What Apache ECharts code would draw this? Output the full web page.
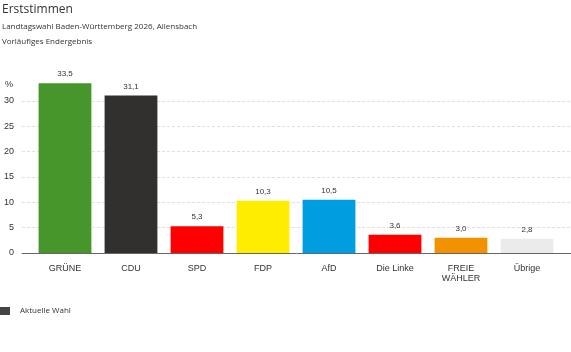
<!DOCTYPE html>
<html><head><meta charset="utf-8">
<script src="https://cdn.jsdelivr.net/npm/echarts@6/dist/echarts.min.js"></script>
<style>html,body{margin:0;padding:0;background:#fff}#c{width:571px;height:352px}</style>
</head><body><div id="c"></div>
<script>
const categories = ['GRÜNE', 'CDU', 'SPD', 'FDP', 'AfD', 'Die Linke', 'FREIE\nWÄHLER', 'Übrige'];
const values = [33.5, 31.1, 5.3, 10.3, 10.5, 3.6, 3.0, 2.8];
const colors = ['#46962b', '#32302e', '#ff0000', '#ffed00', '#009ee0', '#ff0000', '#f39200', '#ebebeb'];
const yTicks = [0, 5, 10, 15, 20, 25, 30];

const chart = echarts.init(document.getElementById('c'), null, {renderer: 'canvas'});
const ui = '"Open Sans", "Noto Sans", sans-serif';
const ar = '"Liberation Sans", Arial, sans-serif';
chart.setOption({
  animation: false,
  title: [
    {text: 'Erststimmen', left: 2, top: 4, padding: 0, textStyle: {fontFamily: ui, fontSize: 12, fontWeight: 'normal', color: '#333'}},
    {text: 'Landtagswahl Baden-Württemberg 2026, Allensbach', left: 2, top: 23, padding: 0, textStyle: {fontFamily: ui, fontSize: 8, fontWeight: 'normal', color: '#333'}},
    {text: 'Vorläufiges Endergebnis', left: 2, top: 38, padding: 0, textStyle: {fontFamily: ui, fontSize: 8, fontWeight: 'normal', color: '#333'}}
  ],
  legend: {
    left: 0, top: 307, padding: 0, itemWidth: 10, itemHeight: 8, icon: 'rect',
    data: ['Aktuelle Wahl'],
    textStyle: {fontFamily: ui, fontSize: 8, color: '#333', padding: [0, 0, 0, 5]}
  },
  grid: [
    {left: 22, right: 0, top: 101, bottom: 99},
    {left: 32, right: 11, top: 101, bottom: 99}
  ],
  xAxis: [
    {gridIndex: 0, type: 'category', data: categories, axisLine: {lineStyle: {color: '#666', width: 1}}, axisTick: {show: false}, axisLabel: {show: false}},
    {gridIndex: 1, type: 'category', data: categories, axisLine: {show: false}, axisTick: {show: false},
     axisLabel: {margin: 11, fontFamily: ar, fontSize: 9, color: '#333', lineHeight: 10, interval: 0}}
  ],
  yAxis: [
    {gridIndex: 0, type: 'value', min: yTicks[0], max: yTicks[yTicks.length - 1], interval: 5,
     name: '%', nameLocation: 'end', nameGap: 12,
     nameTextStyle: {fontFamily: ar, fontSize: 9, color: '#333', align: 'right', padding: [0, 9, 0, 0]},
     axisLine: {show: false}, axisTick: {show: false},
     axisLabel: {margin: 8, fontFamily: ar, fontSize: 9, color: '#333'},
     splitLine: {lineStyle: {color: '#e0e0e0', type: [3, 2], width: 1}}},
    {gridIndex: 1, type: 'value', min: yTicks[0], max: yTicks[yTicks.length - 1], interval: 5,
     axisLine: {show: false}, axisTick: {show: false}, axisLabel: {show: false}, splitLine: {show: false}}
  ],
  series: [{
    name: 'Aktuelle Wahl', type: 'bar', xAxisIndex: 1, yAxisIndex: 1, clip: false,
    barCategoryGap: '20%',
    itemStyle: {color: '#444'},
    data: values.map((v, i) => ({value: v, itemStyle: {color: colors[i]}})),
    label: {show: true, position: 'top', distance: 5, fontFamily: ar, fontSize: 8, color: '#333',
            formatter: p => p.value.toFixed(1).replace('.', ',')}
  }]
});
</script></body></html>
